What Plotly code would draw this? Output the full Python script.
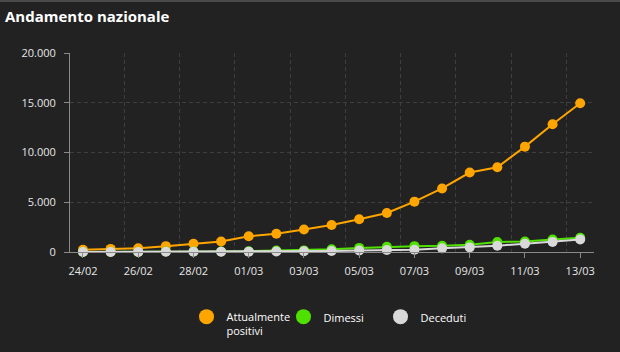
import plotly.graph_objects as go

dates = ["24/02", "25/02", "26/02", "27/02", "28/02", "29/02", "01/03", "02/03", "03/03", "04/03",
         "05/03", "06/03", "07/03", "08/03", "09/03", "10/03", "11/03", "12/03", "13/03"]
attualmente_positivi = [221, 311, 385, 588, 821, 1049, 1577, 1835, 2263, 2706,
                        3296, 3916, 5061, 6387, 7985, 8514, 10590, 12839, 14955]
dimessi = [1, 1, 3, 45, 46, 50, 83, 149, 160, 276,
           414, 523, 589, 622, 724, 1004, 1045, 1258, 1439]
deceduti = [7, 10, 12, 17, 21, 29, 34, 52, 79, 107,
            148, 197, 233, 366, 463, 631, 827, 1016, 1266]
series_names = ["Attualmente<br>positivi", "Dimessi", "Deceduti"]
y_ticks = [0, 5000, 10000, 15000, 20000]

colors = ["#FFA500", "#4FE000", "#D9D9D9"]
BG = "#222222"
FONT = "Open Sans"

idx = list(range(len(dates)))
fig = go.Figure()
for vals, col in zip([attualmente_positivi, dimessi, deceduti], colors):
    fig.add_trace(go.Scatter(
        x=idx, y=vals, mode="lines+markers",
        line=dict(color=col, width=2),
        marker=dict(color=col, size=10),
        showlegend=False, cliponaxis=False, hoverinfo="x+y"))
for name, col in zip(series_names, colors):
    fig.add_trace(go.Scatter(
        x=[None], y=[None], mode="markers", name=name,
        marker=dict(color=col, size=15)))

even = idx[::2]
fig.update_layout(
    width=620, height=352,
    paper_bgcolor=BG, plot_bgcolor=BG,
    separators=",.",
    margin=dict(l=70, r=26, t=53, b=100, autoexpand=False),
    font=dict(family=FONT, color="#E6E6E6", size=11),
    title=dict(text="<b>Andamento nazionale</b>", xref="container", yref="container",
               x=5/620, xanchor="left", y=1-17/352, yanchor="middle",
               font=dict(size=15, color="#FFFFFF", family=FONT)),
    xaxis=dict(range=[-0.47, 18.5], tickvals=even, ticktext=[dates[i] for i in even],
               showgrid=False, zeroline=False,
               showline=True, linecolor="#8A8A8A", linewidth=1,
               ticks="outside", ticklen=5, tickcolor="#8A8A8A",
               ticklabelstandoff=4,
               tickfont=dict(size=11, color="#E6E6E6"),
               minor=dict(tick0=-0.5, dtick=2, showgrid=True, gridcolor="#3E3E3E",
                          griddash="4px,3px", gridwidth=1, ticks="")),
    yaxis=dict(range=[0, 20000], tickvals=y_ticks, tickformat=",d",
               showgrid=True, gridcolor="#3E3E3E", griddash="4px,3px", gridwidth=1,
               zeroline=False, showline=True, linecolor="#8A8A8A", linewidth=1,
               ticks="outside", ticklen=5, tickcolor="#8A8A8A",
               ticklabelstandoff=6,
               tickfont=dict(size=11, color="#E6E6E6")),
    legend=dict(orientation="h", x=0.5, xanchor="center",
                yref="container", y=(352-303)/352, yanchor="top",
                font=dict(size=11, color="#FFFFFF"), bgcolor="rgba(0,0,0,0)",
                itemsizing="trace", valign="top",
                entrywidth=52, entrywidthmode="pixels"),
    shapes=[dict(type="line", xref="paper", yref="paper", x0=-70/524, x1=1+26/524,
                 y0=(252-1)/199, y1=(252-1)/199, line=dict(color="#4A4A4A", width=2))],
)
fig.write_html("out.html")
